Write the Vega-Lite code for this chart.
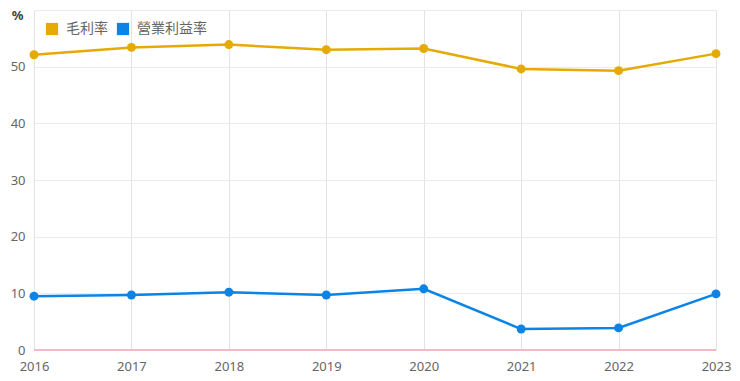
{
  "$schema": "https://vega.github.io/schema/vega-lite/v6.json",
  "width": 682,
  "height": 340,
  "autosize": "none",
  "padding": {"left": 34, "top": 10, "right": 24, "bottom": 31},
  "background": "white",
  "config": {
    "view": {"stroke": null},
    "font": "Noto Sans CJK TC"
  },
  "data": {
    "values": [
      {"year": "2016", "series": "毛利率", "value": 52.1},
      {"year": "2017", "series": "毛利率", "value": 53.4},
      {"year": "2018", "series": "毛利率", "value": 53.9},
      {"year": "2019", "series": "毛利率", "value": 53.0},
      {"year": "2020", "series": "毛利率", "value": 53.2},
      {"year": "2021", "series": "毛利率", "value": 49.6},
      {"year": "2022", "series": "毛利率", "value": 49.3},
      {"year": "2023", "series": "毛利率", "value": 52.3},
      {"year": "2016", "series": "營業利益率", "value": 9.5},
      {"year": "2017", "series": "營業利益率", "value": 9.7},
      {"year": "2018", "series": "營業利益率", "value": 10.2},
      {"year": "2019", "series": "營業利益率", "value": 9.7},
      {"year": "2020", "series": "營業利益率", "value": 10.8},
      {"year": "2021", "series": "營業利益率", "value": 3.7},
      {"year": "2022", "series": "營業利益率", "value": 3.9},
      {"year": "2023", "series": "營業利益率", "value": 9.9}
    ]
  },
  "encoding": {
    "x": {
      "field": "year", "type": "ordinal",
      "scale": {"type": "point", "padding": 0},
      "axis": {
        "title": null, "labelAngle": 0, "domain": false, "ticks": false,
        "grid": true, "gridColor": "#e3e3e3", "labelColor": "#666666",
        "labelFontSize": 13, "labelPadding": 10, "labelFont": "Noto Sans"
      }
    },
    "y": {
      "field": "value", "type": "quantitative",
      "scale": {"domain": [0, 60]},
      "axis": {
        "title": "%", "titleAngle": 0, "titleAlign": "center", "titleBaseline": "middle",
        "titleX": -17, "titleY": 5, "titleFontSize": 13, "titleColor": "#444444", "titleFont": "Noto Sans", "titleFontWeight": "bold",
        "values": [0, 10, 20, 30, 40, 50, 60],
        "labelExpr": "datum.value == 60 ? '' : datum.label",
        "domain": false, "ticks": false, "grid": true, "gridColor": "#ebebeb",
        "labelColor": "#666666", "labelFontSize": 13, "labelPadding": 9, "labelFont": "Noto Sans"
      }
    }
  },
  "layer": [
    {
      "mark": {"type": "rule", "color": "#f5b8c4", "strokeWidth": 1.5},
      "encoding": {"y": {"datum": 0}, "x": null}
    },
    {
      "mark": {"type": "line", "strokeWidth": 2.5, "point": {"size": 80, "filled": true, "opacity": 1}},
      "encoding": {
        "color": {
          "field": "series", "type": "nominal",
          "scale": {"domain": ["毛利率", "營業利益率"], "range": ["#E6AA05", "#0B84E6"]},
          "legend": {
            "title": null, "orient": "none", "direction": "horizontal",
            "legendX": 11, "legendY": 12, "symbolType": "square", "symbolSize": 150,
            "symbolStrokeWidth": 0, "symbolOpacity": 1,
            "labelFontSize": 14, "labelColor": "#666666", "columnPadding": 8, "labelOffset": 7
          }
        }
      }
    }
  ]
}
